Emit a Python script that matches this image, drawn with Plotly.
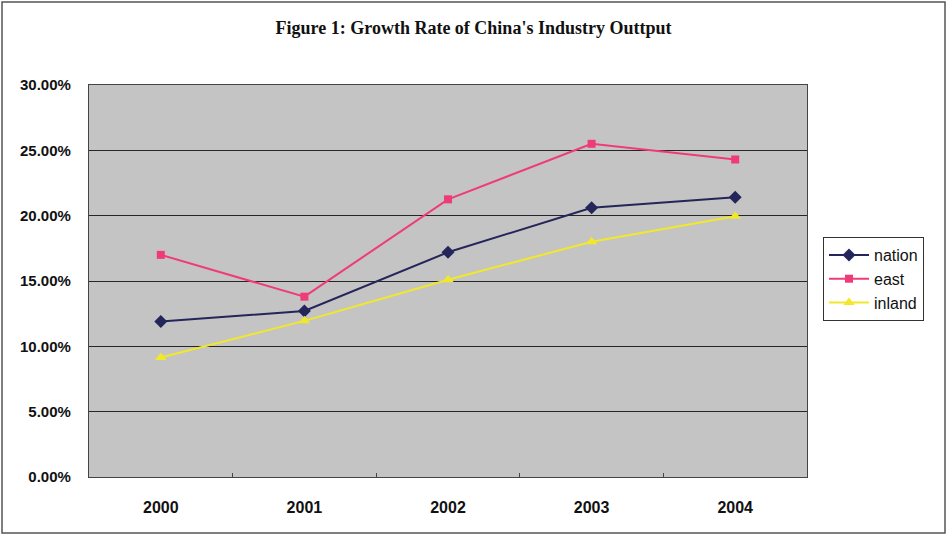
import plotly.graph_objects as go

# Industry output growth rate by region (%)
years = ["2000", "2001", "2002", "2003", "2004"]
nation = [11.9, 12.7, 17.2, 20.6, 21.4]
east = [17.0, 13.8, 21.25, 25.5, 24.3]
inland = [9.15, 11.95, 15.1, 18.0, 19.95]

y_ticks = [0, 5, 10, 15, 20, 25, 30]

W, H = 947, 536
ML, MR, MT, MB = 89, 140, 85, 59

fig = go.Figure()

series = [
    ("nation", nation, "#24255a", "diamond", 10),
    ("east", east, "#ef3b77", "square", 8),
    ("inland", inland, "#f2e82a", "triangle-up", 10),
]
for name, vals, color, sym, size in series:
    fig.add_trace(go.Scatter(
        x=years, y=vals, name=name, mode="lines+markers",
        line=dict(color=color, width=2),
        marker=dict(symbol=sym, size=size, color=color),
    ))

# outer frame of the chart, expressed in paper units from pixel margins
pw, ph = W - ML - MR, H - MT - MB
def px_x(p):
    return (p - ML) / pw
def px_y(p):
    return (H - MB - p) / ph

fig.add_shape(type="rect", xref="paper", yref="paper",
              x0=px_x(2), x1=px_x(945), y0=px_y(533), y1=px_y(2),
              line=dict(color="#555555", width=1.5), layer="below")

fig.update_layout(
    width=W, height=H,
    margin=dict(l=ML, r=MR, t=MT, b=MB),
    paper_bgcolor="white",
    plot_bgcolor="#c4c4c4",
    title=dict(
        text="<b>Figure 1: Growth Rate of China's Industry Outtput</b>",
        x=0.5, xref="container", xanchor="center",
        y=1 - 28 / H, yanchor="middle",
        font=dict(family="Liberation Serif", size=18, color="#111111"),
    ),
    showlegend=True,
    legend=dict(
        x=px_x(823), y=px_y(237), xanchor="left", yanchor="top",
        bgcolor="white", bordercolor="#333333", borderwidth=1,
        font=dict(family="Liberation Sans", size=16, color="#111111"),
        itemwidth=40,
    ),
    font=dict(family="Liberation Sans", color="#111111"),
)

fig.update_xaxes(
    type="category", range=[-0.5, len(years) - 0.5],
    tickvals=years, ticktext=[f"<b>{y}</b>" for y in years],
    showgrid=False,
    showline=True, linecolor="#444444", linewidth=1.2, mirror=True,
    ticks="inside", tickson="boundaries", ticklen=4, tickcolor="#444444",
    tickfont=dict(family="Liberation Sans", size=16, color="#111111"),
    ticklabelstandoff=16,
)
fig.update_yaxes(
    range=[0, 30], tickvals=y_ticks,
    ticktext=[f"<b>{v:.2f}%</b>" for v in y_ticks],
    showgrid=True, gridcolor="#262626", gridwidth=1.4,
    showline=True, linecolor="#444444", linewidth=1.2, mirror=True,
    zeroline=False,
    tickfont=dict(family="Liberation Sans", size=15, color="#111111"),
    ticklabelstandoff=14,
)

fig.write_html("out.html")
